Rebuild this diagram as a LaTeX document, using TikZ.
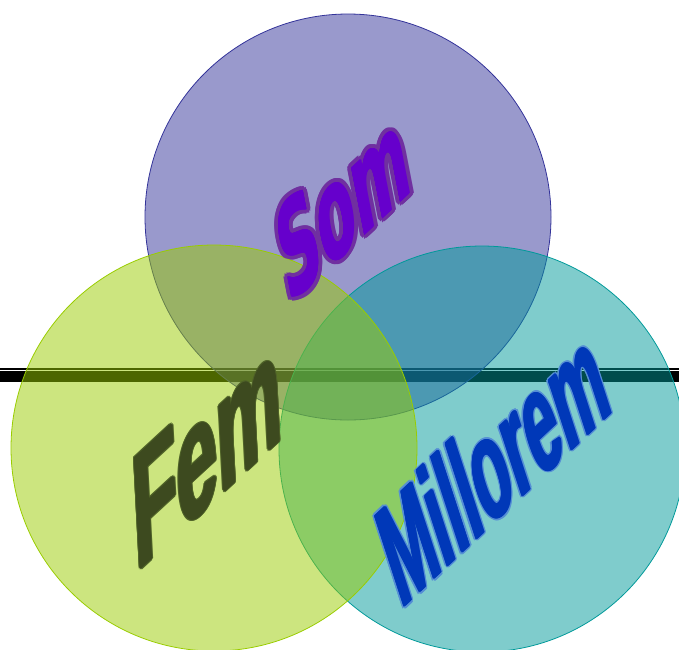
\documentclass[tikz,border=0pt]{standalone}
\usepackage{fontspec}
\newfontfamily\artfont{Liberation Sans}
\newfontfamily\roundfont{DejaVu Sans}
\definecolor{somcirc}{HTML}{333399}
\definecolor{femcirc}{HTML}{99CC00}
\definecolor{milcirc}{HTML}{009999}
\definecolor{somfill}{HTML}{6600CC}
\definecolor{somline}{HTML}{7030A0}
\definecolor{femfill}{HTML}{3D4A1F}
\definecolor{femline}{HTML}{4F6228}
\definecolor{milfill}{HTML}{0038B8}
\definecolor{milline}{HTML}{558ED5}
\tikzset{
  disc/.style={draw=#1, line width=0.8pt, fill=#1, fill opacity=0.5},
  wordart/.style={inner sep=0pt, anchor=base west},
  somword/.style={wordart, rotate=11, yslant=0.62, xscale=0.475,
    font=\roundfont\bfseries\fontsize{124}{128}\selectfont},
  femword/.style={wordart, rotate=3, yslant=0.83, xscale=0.47,
    font=\artfont\bfseries\fontsize{160}{164}\selectfont},
  milword/.style={wordart, rotate=18, yslant=0.47, xscale=0.466,
    font=\artfont\bfseries\fontsize{138}{140}\selectfont},
}

\begin{document}
\begin{tikzpicture}[x=1pt, y=-1pt]
		\useasboundingbox (0, 0) rectangle (679, 649);
		
		%%%%% bar %%%%%
		\fill[black] (0, 368) rectangle (679, 370.2);
		\fill[black] (0, 371.4) rectangle (679, 382);
		
		%%%%% circles %%%%%
		\draw[disc=somcirc] (348, 217) circle (203pt);
		\draw[disc=milcirc] (482, 449) circle (203pt);
		\draw[disc=femcirc] (214, 448) circle (203pt);
		
		%%%%% words %%%%%
		\coordinate (somat) at (289, 305);
		\coordinate (femat) at (136, 573);
		\coordinate (milat) at (401, 610);
		
		\foreach \a in {0, 22.5, ..., 337.5}
			\node[somword, text=somline] at ([shift={(\a:4.4)}]somat) {Som};
		\foreach \a in {0, 60, ..., 300}
			\node[somword, text=somfill] at ([shift={(\a:0.6)}]somat) {Som};
		\node[somword, text=somfill] (som) at (somat) {Som};
		
		\foreach \a in {0, 30, ..., 330}
			\node[femword, text=femline] at ([shift={(\a:2)}]femat) {Fem};
		\foreach \a in {0, 60, ..., 300}
			\node[femword, text=femfill] at ([shift={(\a:1)}]femat) {Fem};
		\node[femword, text=femfill] (fem) at (femat) {Fem};
		
		\foreach \a in {0, 30, ..., 330}
			\node[milword, text=milline] at ([shift={(\a:2.4)}]milat) {Millorem};
		\foreach \a in {0, 60, ..., 300}
			\node[milword, text=milfill] at ([shift={(\a:1)}]milat) {Millorem};
		\node[milword, text=milfill] (mil) at (milat) {Millorem};
		
	\end{tikzpicture}
\end{document}
